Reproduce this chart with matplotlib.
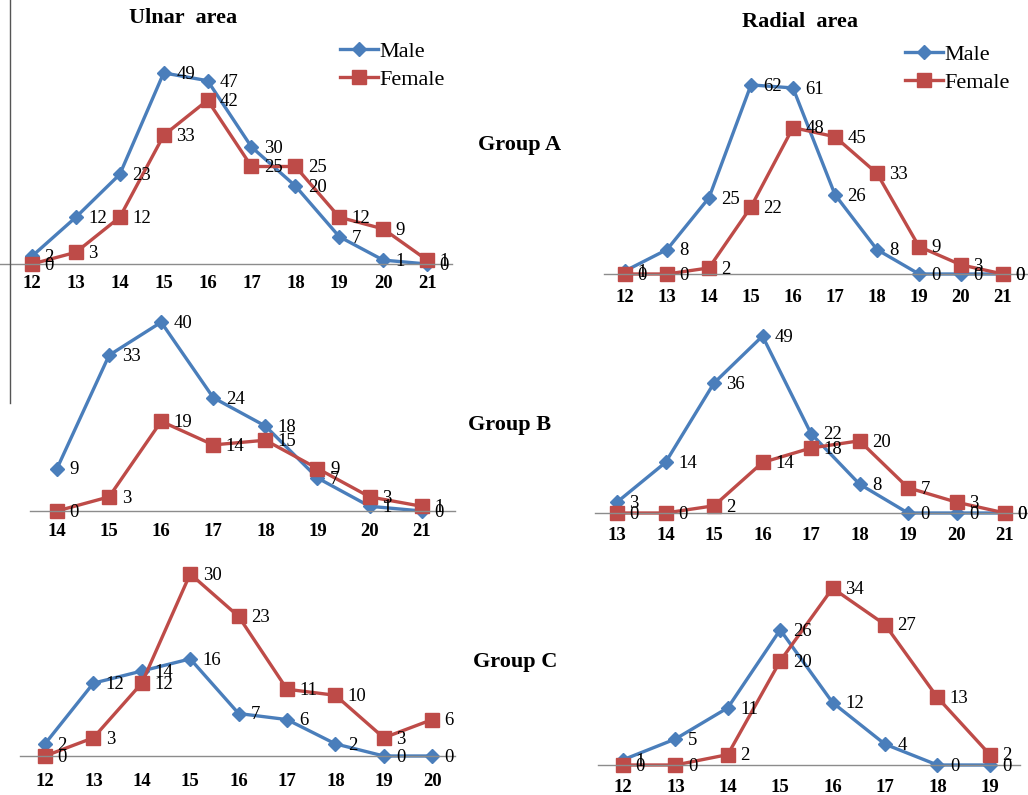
import matplotlib
matplotlib.use("Agg")
import matplotlib.pyplot as plt
from matplotlib.lines import Line2D

W, H = 1028, 795
BLUE = "#4a7ebb"
RED = "#be4b48"
plt.rcParams["font.family"] = ["Liberation Serif", "DejaVu Serif"]

# Ulnar area
ulnar_a_x = [12, 13, 14, 15, 16, 17, 18, 19, 20, 21]
ulnar_a_male = [2, 12, 23, 49, 47, 30, 20, 7, 1, 0]
ulnar_a_female = [0, 3, 12, 33, 42, 25, 25, 12, 9, 1]

ulnar_b_x = [14, 15, 16, 17, 18, 19, 20, 21]
ulnar_b_male = [9, 33, 40, 24, 18, 7, 1, 0]
ulnar_b_female = [0, 3, 19, 14, 15, 9, 3, 1]

ulnar_c_x = [12, 13, 14, 15, 16, 17, 18, 19, 20]
ulnar_c_male = [2, 12, 14, 16, 7, 6, 2, 0, 0]
ulnar_c_female = [0, 3, 12, 30, 23, 11, 10, 3, 6]

# Radial area
radial_a_x = [12, 13, 14, 15, 16, 17, 18, 19, 20, 21]
radial_a_male = [1, 8, 25, 62, 61, 26, 8, 0, 0, 0]
radial_a_female = [0, 0, 2, 22, 48, 45, 33, 9, 3, 0]

radial_b_x = [13, 14, 15, 16, 17, 18, 19, 20, 21]
radial_b_male = [3, 14, 36, 49, 22, 8, 0, 0, 0]
radial_b_female = [0, 0, 2, 14, 18, 20, 7, 3, 0]

radial_c_x = [12, 13, 14, 15, 16, 17, 18, 19]
radial_c_male = [1, 5, 11, 26, 12, 4, 0, 0]
radial_c_female = [0, 0, 2, 20, 34, 27, 13, 2]


def add_panel(fig, xs, male, female, x0, dx, ay, sy, left, right, pad=8):
    # everything in pixels: x0 = pixel of first tick, dx = px per category,
    # ay = pixel row of the baseline, sy = px per count
    top = ay - 230
    ax = fig.add_axes([left / W, 1 - ay / H, (right - left) / W, (ay - top) / H])
    ax.set_xlim(xs[0] - (x0 - left) / dx, xs[0] + (right - x0) / dx)
    ax.set_ylim(0, (ay - top) / sy)
    ax.patch.set_alpha(0)
    for s in ("top", "left", "right"):
        ax.spines[s].set_visible(False)
    ax.spines["bottom"].set_color("#8c8c8c")
    ax.spines["bottom"].set_linewidth(1)
    ax.set_yticks([])
    ax.set_xticks(xs)
    ax.set_xticklabels([str(x) for x in xs], fontsize=13.5, fontweight="bold")
    ax.tick_params(axis="x", length=0, pad=pad)

    ax.plot(xs, male, color=BLUE, lw=2.4, marker="D", markersize=7,
            clip_on=False, label="Male")
    ax.plot(xs, female, color=RED, lw=2.4, marker="s", markersize=10,
            clip_on=False, label="Female")
    for ys in (male, female):
        for x, y in zip(xs, ys):
            ax.annotate(str(y), (x, y), xytext=(9, -1), textcoords="offset points",
                        va="center", ha="left", fontsize=13.5, annotation_clip=False)
    return ax


def main():
    fig = plt.figure(figsize=(W / 100, H / 100), dpi=100)

    ax_ua = add_panel(fig, ulnar_a_x, ulnar_a_male, ulnar_a_female,
                      32, 43.9, 264, 3.9, 0, 452, pad=8)
    ax_ra = add_panel(fig, radial_a_x, radial_a_male, radial_a_female,
                      625, 42.0, 274, 3.05, 604, 1028, pad=11)
    add_panel(fig, ulnar_b_x, ulnar_b_male, ulnar_b_female,
              57, 52.1, 511, 4.72, 30, 455, pad=9)
    add_panel(fig, radial_b_x, radial_b_male, radial_b_female,
              617, 48.5, 513, 3.61, 595, 1028, pad=10)
    add_panel(fig, ulnar_c_x, ulnar_c_male, ulnar_c_female,
              45, 48.4, 756, 6.07, 20, 455, pad=12)
    add_panel(fig, radial_c_x, radial_c_male, radial_c_female,
              623, 52.4, 765, 5.2, 598, 1020, pad=10)

    for ax, (lx, ly) in ((ax_ua, (340, 41)), (ax_ra, (905, 44))):
        ax.legend(loc="upper left", bbox_to_anchor=(lx / W, 1 - ly / H),
                  bbox_transform=fig.transFigure, frameon=False, fontsize=16,
                  handlelength=1.7, handletextpad=0.05, labelspacing=0.35,
                  borderpad=0, borderaxespad=0)

    fig.text(183 / W, 1 - 18 / H, "Ulnar  area", ha="center", va="center",
             fontsize=16, fontweight="bold")
    fig.text(800 / W, 1 - 22 / H, "Radial  area", ha="center", va="center",
             fontsize=16, fontweight="bold")
    for gx, gy, name in ((520, 145, "Group A"), (510, 425, "Group B"),
                         (515, 662, "Group C")):
        fig.text(gx / W, 1 - gy / H, name, ha="center", va="center",
                 fontsize=16, fontweight="bold")

    # stray frame line on the left of the ulnar panels
    fig.add_artist(Line2D([10 / W, 10 / W], [1, 1 - 403 / H], color="#555555", lw=1))

    fig.savefig("out.png", dpi=100)
    plt.close()


if __name__ == "__main__":
    main()
